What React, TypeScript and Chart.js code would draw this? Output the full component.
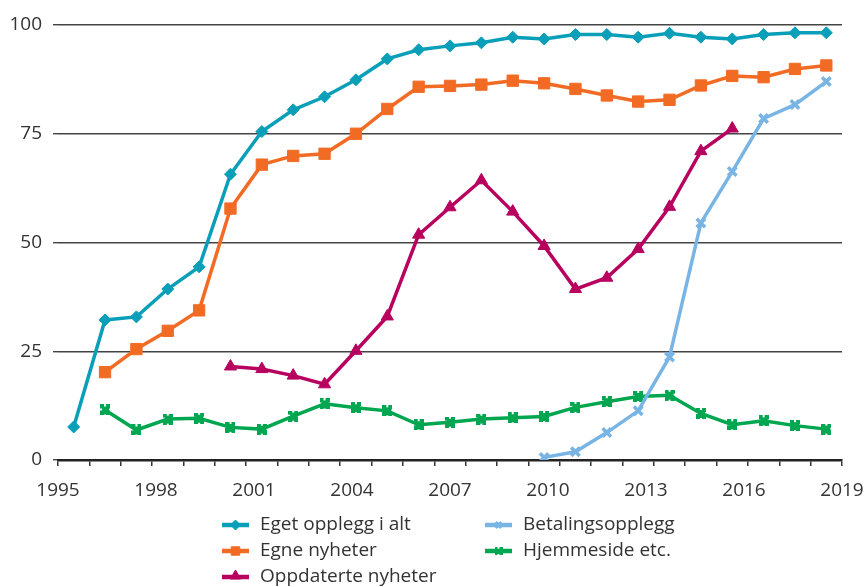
import React, { useEffect, useRef } from 'react';
import { Chart, registerables } from 'chart.js';
import { drawPoint } from 'chart.js/helpers';

Chart.register(...registerables);

const categories = [
  '1995', '1996', '1997', '1998', '1999', '2000', '2001', '2002', '2003', '2004', '2005', '2006', '2007',
  '2008', '2009', '2010', '2011', '2012', '2013', '2014', '2015', '2016', '2017', '2018', '2019',
];

const egetOpplegg = [
  7.6, 32.2, 32.9, 39.3, 44.4, 65.7, 75.5, 80.5, 83.5, 87.4, 92.2, 94.3, 95.2,
  95.9, 97.2, 96.8, 97.8, 97.8, 97.2, 98.1, 97.2, 96.8, 97.8, 98.2, 98.2,
];
const egneNyheter = [
  null, 20.2, 25.5, 29.7, 34.4, 57.8, 67.9, 69.9, 70.4, 75.0, 80.7, 85.8, 86.0,
  86.3, 87.2, 86.6, 85.3, 83.8, 82.4, 82.8, 86.1, 88.3, 88.0, 89.9, 90.7,
];
const oppdaterteNyheter = [
  null, null, null, null, null, 21.5, 20.9, 19.4, 17.4, 25.1, 33.0, 51.8, 58.1,
  64.3, 57.1, 49.2, 39.3, 41.9, 48.5, 58.2, 71.0, 76.2, null, null, null,
];
const betalingsopplegg = [
  null, null, null, null, null, null, null, null, null, null, null, null, null,
  null, null, 0.6, 1.9, 6.3, 11.3, 23.7, 54.5, 66.3, 78.5, 81.7, 87.0,
];
const hjemmeside = [
  null, 11.5, 6.9, 9.4, 9.6, 7.5, 7.1, 10.1, 12.9, 12.0, 11.3, 8.1, 8.7,
  9.4, 9.7, 10.0, 12.1, 13.4, 14.6, 14.9, 10.7, 8.1, 9.0, 7.9, 7.1,
];

const xTickYears = [1995, 1998, 2001, 2004, 2007, 2010, 2013, 2016, 2019];
const yTicks = [0, 25, 50, 75, 100];

const seriesLabels = [
  'Eget opplegg i alt',
  'Egne nyheter',
  'Oppdaterte nyheter',
  'Betalingsopplegg',
  'Hjemmeside etc.',
];

const FONT = '"Open Sans", "DejaVu Sans", sans-serif';
const TEXT = '#333333';

const toPoints = (vals: (number | null)[]) =>
  vals.map((v, i) => ({ x: i + 0.5, y: v }));

function makeNotchedSquare(color: string, w: number, h: number) {
  const c = document.createElement('canvas');
  c.width = w;
  c.height = h;
  const g = c.getContext('2d')!;
  g.fillStyle = color;
  g.fillRect(0, 0, w, h);
  const mx = Math.floor(w / 2) - 1;
  const my = Math.floor(h / 2) - 1;
  g.clearRect(mx, 0, 2, 1.5);
  g.clearRect(mx, h - 1.5, 2, 1.5);
  g.clearRect(0, my, 1.5, 2);
  g.clearRect(w - 1.5, my, 1.5, 2);
  return c;
}

const legendPlugin = {
  id: 'columnLegend',
  afterDraw(chart: any) {
    const ctx = chart.ctx;
    const cols = [222, 485];
    const rows = [525, 551, 577];
    const layout = [
      [0, 0], [0, 1], [0, 2], [1, 0], [1, 1],
    ];
    ctx.save();
    chart.data.datasets.forEach((ds: any, i: number) => {
      const [c, r] = layout[i];
      const x = cols[c];
      const y = rows[r];
      ctx.strokeStyle = ds.borderColor;
      ctx.lineWidth = 4.5;
      ctx.lineCap = 'butt';
      ctx.beginPath();
      ctx.moveTo(x, y);
      ctx.lineTo(x + 27, y);
      ctx.stroke();
      ctx.fillStyle = ds.pointBackgroundColor;
      ctx.strokeStyle = ds.pointBorderColor;
      ctx.lineWidth = ds.legendPointBorder;
      const style = ds.legendPointStyle || ds.pointStyle;
      drawPoint(ctx, { pointStyle: style, radius: ds.legendPointRadius, rotation: 0, borderWidth: ds.legendPointBorder }, x + 13.5, y - (style === 'triangle' ? 1 : 0));
      ctx.fillStyle = TEXT;
      ctx.font = `19px ${FONT}`;
      ctx.textBaseline = 'middle';
      ctx.textAlign = 'left';
      ctx.fillText(ds.label, x + 38, y);
    });
    ctx.restore();
  },
};

export default function App() {
  const ref = useRef<HTMLCanvasElement | null>(null);

  useEffect(() => {
    document.body.style.margin = '0';
    if (!ref.current) return;
    const mk = (
      label: string,
      vals: (number | null)[],
      color: string,
      style: any,
      radius: number,
      pbw: number,
      lr: number,
      lbw: number,
      legendStyle?: any,
    ) => ({
      label,
      data: toPoints(vals),
      borderColor: color,
      backgroundColor: color,
      pointBackgroundColor: color,
      pointBorderColor: color,
      pointStyle: style,
      pointRadius: radius,
      pointBorderWidth: pbw,
      pointHoverRadius: radius,
      borderWidth: 3.5,
      tension: 0,
      spanGaps: false,
      xAxisID: 'x',
      yAxisID: 'y',
      legendPointRadius: lr,
      legendPointBorder: lbw,
      legendPointStyle: legendStyle,
    });

    const greenColor = '#00A650';
    const greenMarker = makeNotchedSquare(greenColor, 10, 11);
    const greenLegend = makeNotchedSquare(greenColor, 8, 8);

    const chart = new Chart(ref.current, {
      type: 'line',
      data: {
        labels: categories,
        datasets: [
          mk(seriesLabels[0], egetOpplegg, '#0A9FB8', 'rectRot', 6, 1, 5, 1),
          mk(seriesLabels[1], egneNyheter, '#F26B24', 'rect', 8, 1, 6, 1),
          mk(seriesLabels[2], oppdaterteNyheter, '#B8005F', 'triangle', 7, 1, 6, 1),
          mk(seriesLabels[3], betalingsopplegg, '#78B4E4', 'crossRot', 6, 3.5, 4, 3),
          mk(seriesLabels[4], hjemmeside, greenColor, greenMarker, 6, 1, 4, 1, greenLegend),
        ] as any,
      },
      options: {
        animation: false,
        responsive: false,
        maintainAspectRatio: false,
        layout: { padding: { top: 25, right: 22, bottom: 81, left: 0 } },
        plugins: {
          legend: { display: false },
          tooltip: { enabled: false },
        },
        scales: {
          x: {
            type: 'linear',
            position: 'bottom',
            min: 0,
            max: categories.length,
            ticks: { display: false, stepSize: 1 },
            grid: {
              drawOnChartArea: false,
              drawTicks: true,
              tickLength: 6,
              color: '#333333',
              lineWidth: 1.5,
            },
            border: { display: true, color: '#222222', width: 2.5 },
            afterFit: (s: any) => { s.height = 19; },
          },
          x2: {
            type: 'linear',
            position: 'bottom',
            min: xTickYears[0],
            max: xTickYears[xTickYears.length - 1],
            afterBuildTicks: (s: any) => { s.ticks = xTickYears.map((v) => ({ value: v })); },
            ticks: {
              padding: 0,
              color: TEXT,
              font: { family: FONT, size: 19 },
              maxRotation: 0,
              autoSkip: false,
              callback: (v: any) => String(v),
            },
            grid: { display: false, drawTicks: false },
            border: { display: false },
            afterFit: (s: any) => { s.height = 27; },
          },
          y: {
            type: 'linear',
            min: 0,
            max: 100,
            afterBuildTicks: (s: any) => { s.ticks = yTicks.map((v) => ({ value: v })); },
            ticks: {
              padding: 11,
              color: TEXT,
              font: { family: FONT, size: 19 },
              callback: (v: any) => String(v),
            },
            grid: { color: '#444444', lineWidth: 1.4, tickLength: 5 },
            border: { display: false },
            afterFit: (s: any) => { s.width = 58; },
          },
        },
      } as any,
      plugins: [legendPlugin],
    });
    return () => chart.destroy();
  }, []);

  return (
    <div style={{ width: 864, height: 587 }}>
      <canvas ref={ref} width={864} height={587} style={{ display: 'block', width: 864, height: 587 }} />
    </div>
  );
}
